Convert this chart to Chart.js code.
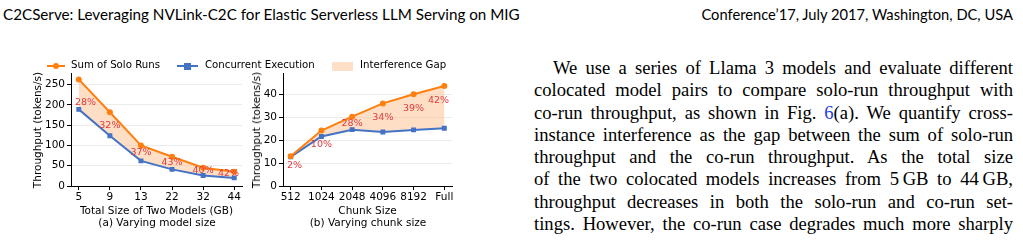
<!DOCTYPE html>
<html>
<head>
<meta charset="utf-8">
<script src="https://cdn.jsdelivr.net/npm/chart.js@4.4.1/dist/chart.umd.min.js"></script>
<style>
  html, body { margin: 0; padding: 0; background: #fff; }
  body { width: 1023px; height: 245px; position: relative; overflow: hidden; }
  .hdr { position: absolute; top: 5px; font-family: 'Lato', sans-serif; font-size: 13px; color: #000; white-space: nowrap; }
  canvas { position: absolute; }
  .legend { position: absolute; top: 58px; font-family: 'DejaVu Sans', sans-serif; font-size: 10.2px; color: #000; white-space: nowrap; line-height: 14px; }
  .sw { position: absolute; }
  .cap { position: absolute; top: 216px; font-family: 'DejaVu Sans', sans-serif; font-size: 10.5px; color: #000; white-space: nowrap; transform: translateX(-50%); }
  .ytitle { position: absolute; top: 129.5px; font-family: 'DejaVu Sans', sans-serif; font-size: 10.5px; line-height: 12px; color: #000; white-space: nowrap; transform: translate(-50%, -50%) rotate(-90deg); }
  .text { position: absolute; left: 534px; top: 57px; width: 479px; font-family: 'Liberation Serif', serif; font-size: 18.6px; line-height: 22.25px; color: #000; }
  .text div { text-align: justify; text-align-last: justify; }
  .text a { color: #2340d9; text-decoration: none; }
</style>
</head>
<body>
<div class="hdr" id="hdrL" style="left:3px">C2CServe: Leveraging NVLink-C2C for Elastic Serverless LLM Serving on MIG</div>
<div class="hdr" id="hdrR" style="right:10px">Conference’17, July 2017, Washington, DC, USA</div>

<canvas id="chartA" width="250" height="155" style="left:0px;top:65px"></canvas>
<canvas id="chartB" width="220" height="155" style="left:240px;top:65px"></canvas>
<div class="ytitle" style="left:37px">Throughput (tokens/s)</div>
<div class="ytitle" style="left:256px">Throughput (tokens/s)</div>

<!-- shared legend over both panels -->
<div class="sw" style="left:47px;top:65px;width:18px;height:2px;background:#ff7f0e"></div>
<div class="sw" style="left:53px;top:63px;width:6px;height:6px;border-radius:50%;background:#ff7f0e"></div>
<div class="legend" style="left:71px">Sum of Solo Runs</div>
<div class="sw" style="left:177px;top:65px;width:21px;height:2px;background:#4472c4"></div>
<div class="sw" style="left:184px;top:62.5px;width:7px;height:7px;background:#4472c4"></div>
<div class="legend" style="left:205px">Concurrent Execution</div>
<div class="sw" style="left:332px;top:61.5px;width:21px;height:9px;background:#fee0c8"></div>
<div class="legend" style="left:360px">Interference Gap</div>

<div class="cap" style="left:157px">(a) Varying model size</div>
<div class="cap" style="left:368px">(b) Varying chunk size</div>

<div class="text" id="body">
  <div style="text-indent:19px"><span>We use a series of Llama 3 models and evaluate different</span></div>
  <div><span>colocated model pairs to compare solo-run throughput with</span></div>
  <div><span>co-run throughput, as shown in Fig. <a>6</a>(a). We quantify cross-</span></div>
  <div><span>instance interference as the gap between the sum of solo-run</span></div>
  <div><span>throughput and the co-run throughput. As the total size</span></div>
  <div><span>of the two colocated models increases from 5&#8201;GB to 44&#8201;GB,</span></div>
  <div><span>throughput decreases in both the solo-run and co-run set-</span></div>
  <div><span>tings. However, the co-run case degrades much more sharply</span></div>
</div>

<script>
/* data */
const sizeLabels = ['5', '9', '13', '22', '32', '44'];
const soloA = [263, 182, 100, 72, 45, 35];
const coA = [189, 124, 62, 41, 26, 20];
const gapA = ['28%', '32%', '37%', '43%', '40%', '42%'];
const gapAtA = [206, 150, 83, 58, 38, 30];
const yTicksA = [0, 50, 100, 150, 200, 250];

const chunkLabels = ['512', '1024', '2048', '4096', '8192', 'Full'];
const soloB = [13.0, 24.3, 30.4, 36.2, 40.2, 43.8];
const coB = [12.8, 21.7, 24.7, 23.7, 24.6, 25.3];
const gapB = ['2%', '10%', '28%', '34%', '39%', '42%'];
const gapAtB = [9.0, 18.3, 27.5, 30.1, 33.8, 37.4];
const yTicksB = [0, 10, 20, 30, 40];

const FONT = { family: 'DejaVu Sans', size: 10.5 };

/* red percentages inside the gap */
const gapLabels = {
  id: 'gapLabels',
  afterDatasetsDraw(chart, args, opts) {
    const { ctx, chartArea } = chart;
    const x = chart.scales.x, y = chart.scales.y;
    ctx.save();
    ctx.font = '9.5px "DejaVu Sans"';
    ctx.fillStyle = '#e0393e';
    ctx.textAlign = 'center';
    ctx.textBaseline = 'middle';
    opts.texts.forEach(function(t, i) {
      const w = ctx.measureText(t).width;
      let px = x.getPixelForValue(i);
      px = Math.max(chartArea.left + 4 + w / 2, Math.min(chartArea.right - 3 - w / 2, px));
      ctx.fillText(t, px, y.getPixelForValue(opts.at[i]));
    });
    ctx.restore();
  }
};

function makeChart(id, labels, solo, co, gap, gapAt, yMax, yTicks, xTitle, axisW) {
  return new Chart(document.getElementById(id), {
    type: 'line',
    data: {
      datasets: [{
        data: solo.map((v, i) => ({ x: i, y: v })),
        borderColor: '#ff7f0e',
        backgroundColor: '#ff7f0e',
        borderWidth: 2,
        pointRadius: 3,
        pointBorderWidth: 0,
        fill: false,
      },
      {
        data: co.map((v, i) => ({ x: i, y: v })),
        borderColor: '#4472c4',
        backgroundColor: 'rgba(253, 196, 150, 0.55)',
        pointBackgroundColor: '#4472c4',
        pointBorderColor: '#4472c4',
        pointStyle: 'rect',
        borderWidth: 2,
        pointRadius: 3.5,
        pointBorderWidth: 0,
        fill: '-1',
      }],
    },
    options: {
      responsive: false,
      animation: false,
      devicePixelRatio: 1,
      layout: { padding: { top: 0, right: 8, left: 0, bottom: 0 } },
      plugins: {
        legend: { display: false },
        tooltip: { enabled: false },
        filler: { drawTime: 'beforeDatasetsDraw' },
        gapLabels: { texts: gap, at: gapAt },
      },
      scales: {
        x: {
          type: 'linear',
          min: -0.25,
          max: 5.25,
          afterBuildTicks: s => { s.ticks = labels.map((_, i) => ({ value: i })); },
          afterFit: s => { s.height = 34; },
          ticks: { callback: v => labels[v], font: FONT, color: '#000', padding: 1, maxRotation: 0, autoSkip: false },
          grid: { drawOnChartArea: false, tickLength: 4, tickColor: '#000' },
          border: { color: '#000', width: 1 },
          title: { display: true, text: xTitle, font: FONT, color: '#000', padding: { top: 2, bottom: 2 } },
        },
        y: {
          type: 'linear',
          min: 0,
          max: yMax,
          afterBuildTicks: s => { s.ticks = yTicks.map(v => ({ value: v })); },
          afterFit: s => { s.width = axisW; },
          ticks: { callback: v => String(v), font: FONT, color: '#000', padding: 2, autoSkip: false },
          grid: { color: '#ebebeb', tickLength: 4, tickColor: '#000' },
          border: { color: '#000', width: 1 },
        },
      },
    },
    plugins: [gapLabels],
  });
}

makeChart('chartA', sizeLabels, soloA, coA, gapA, gapAtA, 278, yTicksA, 'Total Size of Two Models (GB)', 71);
makeChart('chartB', chunkLabels, soloB, coB, gapB, gapAtB, 49.4, yTicksB, 'Chunk Size', 43);

/* fit the running headers to their printed width */
function fitWidth(id, target) {
  const el = document.getElementById(id);
  const fs = parseFloat(getComputedStyle(el).fontSize);
  el.style.fontSize = (fs * target / el.getBoundingClientRect().width) + 'px';
}
fitWidth('hdrL', 517);
fitWidth('hdrR', 312);

/* widen the glyphs a little (the printed serif is wider than Times), justify the rest */
document.querySelectorAll('#body div').forEach(function(line) {
  const span = line.querySelector('span');
  const indent = parseFloat(line.style.textIndent) || 0;
  const w = span.getBoundingClientRect().width;
  const n = span.textContent.length;
  const room = 479 - indent - w - 2;
  const ls = Math.max(0, Math.min(0.7, room / n));
  line.style.letterSpacing = ls + 'px';
});
</script>
</body>
</html>
